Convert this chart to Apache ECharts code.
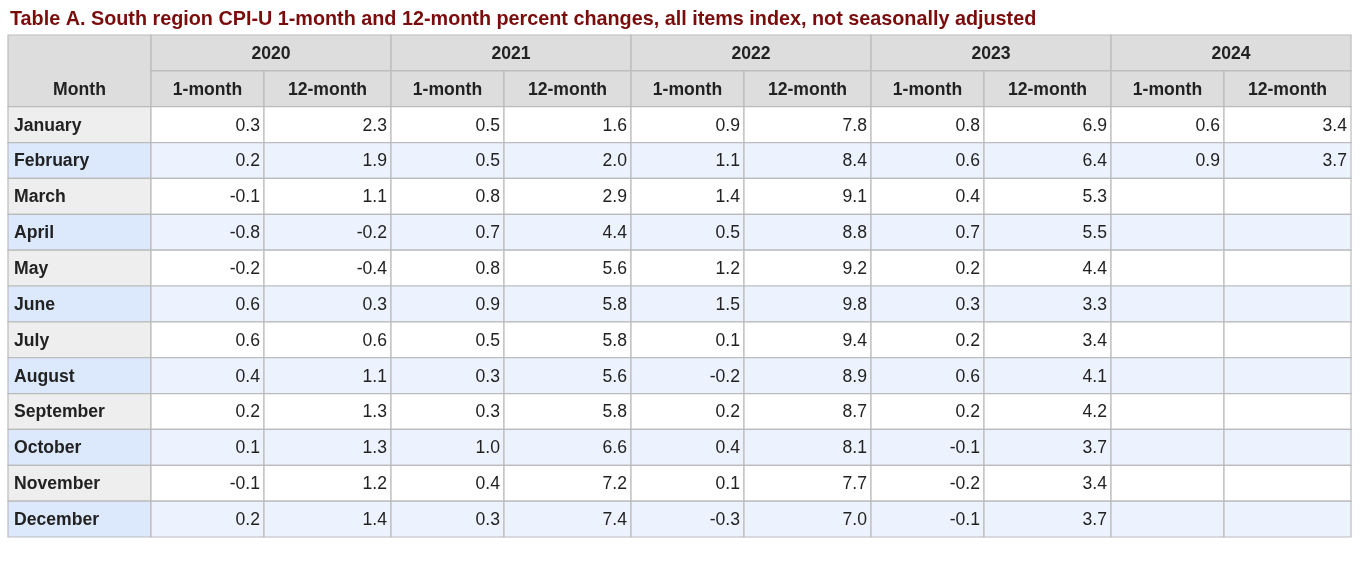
<!DOCTYPE html>
<html><head><meta charset="utf-8">
<script src="https://cdn.jsdelivr.net/npm/echarts@6/dist/echarts.min.js"></script>
<style>html,body{margin:0;background:#fff}#c{width:1366px;height:562px}</style>
</head><body><div id="c"></div>
<script>
const title = "Table A. South region CPI-U 1-month and 12-month percent changes, all items index, not seasonally adjusted";
const years = ["2020","2021","2022","2023","2024"];
const subHeads = ["1-month","12-month"];
const months = ["January","February","March","April","May","June","July","August","September","October","November","December"];
const v2020 = [[0.3,2.3],[0.2,1.9],[-0.1,1.1],[-0.8,-0.2],[-0.2,-0.4],[0.6,0.3],[0.6,0.6],[0.4,1.1],[0.2,1.3],[0.1,1.3],[-0.1,1.2],[0.2,1.4]];
const v2021 = [[0.5,1.6],[0.5,2.0],[0.8,2.9],[0.7,4.4],[0.8,5.6],[0.9,5.8],[0.5,5.8],[0.3,5.6],[0.3,5.8],[1.0,6.6],[0.4,7.2],[0.3,7.4]];
const v2022 = [[0.9,7.8],[1.1,8.4],[1.4,9.1],[0.5,8.8],[1.2,9.2],[1.5,9.8],[0.1,9.4],[-0.2,8.9],[0.2,8.7],[0.4,8.1],[0.1,7.7],[-0.3,7.0]];
const v2023 = [[0.8,6.9],[0.6,6.4],[0.4,5.3],[0.7,5.5],[0.2,4.4],[0.3,3.3],[0.2,3.4],[0.6,4.1],[0.2,4.2],[-0.1,3.7],[-0.2,3.4],[-0.1,3.7]];
const v2024 = [[0.6,3.4],[0.9,3.7]];

// layout (column widths in px units)
const colW = [143,113,127,113,127,113,127,113,127,113,127];
const edges = [0]; colW.forEach(w => edges.push(edges[edges.length-1] + w));
const yearVals = [v2020,v2021,v2022,v2023,v2024];

// cells: [c0, c1, r0, r1, text, kind, align, textRow]
const cells = [];
cells.push([0,1,0,2,"Month","head","center",1]);
years.forEach((y,i) => {
  cells.push([1+2*i,3+2*i,0,1,y,"head","center",0]);
  subHeads.forEach((s,j) => cells.push([1+2*i+j,2+2*i+j,1,2,s,"head","center",1]));
});
months.forEach((m,r) => {
  cells.push([0,1,2+r,3+r,m,r%2?"monthB":"monthA","left",2+r]);
  yearVals.forEach((vals,i) => {
    for (let j=0;j<2;j++){
      const v = vals[r];
      cells.push([1+2*i+j,2+2*i+j,2+r,3+r, v ? v[j].toFixed(1) : "", r%2?"dataB":"dataA","right",2+r]);
    }
  });
});
const fills = {head:"#dddddd",monthA:"#eeeeee",monthB:"#dce9fc",dataA:"#ffffff",dataB:"#edf3fe"};

const chart = echarts.init(document.getElementById('c'));
chart.setOption({
  animation:false,
  title:{text:title,left:5,top:5,textStyle:{color:"#7a0c0c",fontSize:19.8,fontWeight:"bold",fontFamily:"Liberation Sans"}},
  grid:{left:8,right:15,top:35,bottom:25},
  xAxis:{type:"value",min:0,max:edges[edges.length-1],show:false},
  yAxis:{type:"value",min:0,max:14,inverse:true,show:false},
  series:[{
    type:"custom",
    data:cells,
    renderItem:(params,api)=>{
      const d = cells[params.dataIndex];
      const p0 = api.coord([edges[d[0]], d[2]]);
      const p1 = api.coord([edges[d[1]], d[3]]);
      const w = p1[0]-p0[0], h = p1[1]-p0[1];
      const ty = api.coord([0, d[7]+0.5])[1] + 1;
      const tx = d[6]==="center" ? p0[0]+w/2 : d[6]==="left" ? p0[0]+6 : p1[0]-4;
      return {type:"group",children:[
        {type:"rect",shape:{x:p0[0],y:p0[1],width:w,height:h},style:{fill:fills[d[5]],stroke:"#bbbbbb",lineWidth:1.2}},
        {type:"text",x:tx,y:ty,style:{text:d[4],fill:"#222",fontSize:17.6,fontFamily:"Liberation Sans",
          fontWeight:(d[5]==="head"||d[5].startsWith("month"))?"bold":"normal",align:d[6],verticalAlign:"middle"}}
      ]};
    }
  }]
});
</script></body></html>
